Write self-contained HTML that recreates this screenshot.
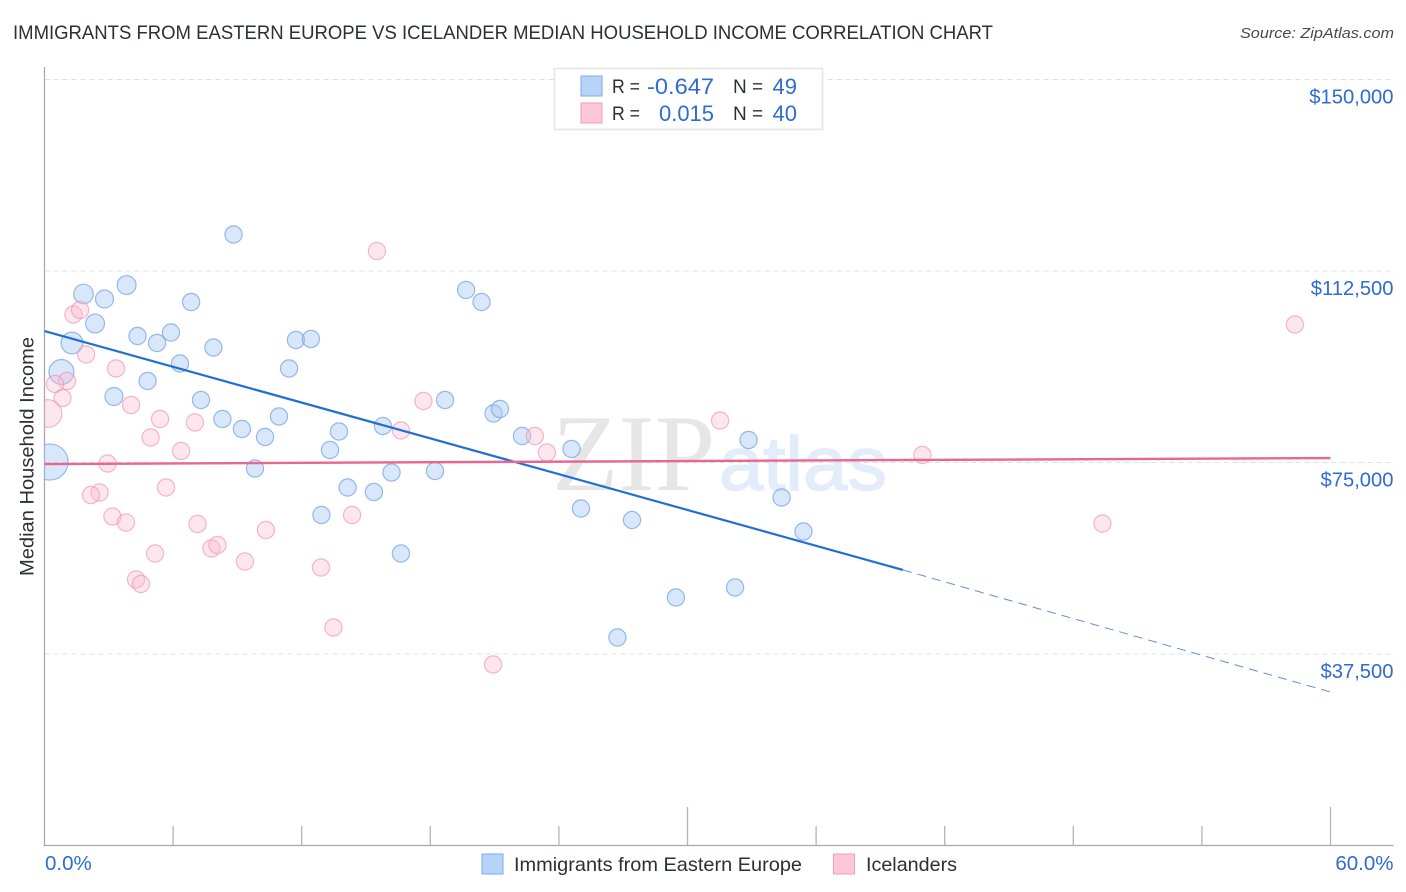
<!DOCTYPE html>
<html lang="en">
<head>
<meta charset="utf-8">
<title>Immigrants from Eastern Europe vs Icelander Median Household Income Correlation Chart</title>
<style>
html,body{margin:0;padding:0;background:#fff;width:1406px;height:892px;overflow:hidden}
svg{display:block;font-family:"Liberation Sans",sans-serif}
</style>
</head>
<body>
<svg id="chart" width="1406" height="892" viewBox="0 0 1406 892" xmlns="http://www.w3.org/2000/svg">
  <defs>
    <clipPath id="plot-clip"><rect x="44.5" y="60" width="1349" height="785.5"/></clipPath>
  </defs>
  <rect x="0" y="0" width="1406" height="892" fill="#ffffff"/>
  <text x="13" y="39" font-size="19.5" fill="#2b2f36" textLength="980" lengthAdjust="spacingAndGlyphs">IMMIGRANTS FROM EASTERN EUROPE VS ICELANDER MEDIAN HOUSEHOLD INCOME CORRELATION CHART</text>
  <text x="1394" y="38" font-size="15" font-style="italic" fill="#444a52" text-anchor="end" textLength="154" lengthAdjust="spacingAndGlyphs">Source: ZipAtlas.com</text>
  <g>
    <text x="552" y="490" style="font-family:'Liberation Serif',serif" font-size="109" fill="#e6e6e6" textLength="163" lengthAdjust="spacingAndGlyphs">ZIP</text>
    <text x="719" y="490" style="font-family:'Liberation Sans',sans-serif" font-size="76" fill="#e3ecf9" stroke="#e3ecf9" stroke-width="1.5" textLength="168" lengthAdjust="spacingAndGlyphs">atlas</text>
  </g>
  <g id="grid"></g>
  <g id="axes"></g>
  <g id="points" clip-path="url(#plot-clip)"></g>
  <g id="lines"></g>
  <text transform="translate(33.5,456.5) rotate(-90)" font-size="19" fill="#2b2f36" text-anchor="middle" textLength="239" lengthAdjust="spacingAndGlyphs">Median Household Income</text>
  <g>
    <rect x="554.5" y="68.5" width="268" height="61" fill="#ffffff" stroke="#e4e4e4" stroke-width="1.5"/>
    <rect x="581" y="76" width="21" height="20" fill="#b6d3f8" stroke="#7fa9e6" stroke-width="1"/>
    <rect x="581" y="103" width="21" height="20" fill="#fcc8d9" stroke="#f09db8" stroke-width="1"/>
    <text x="612" y="93" font-size="19" fill="#2b2f36" textLength="28" lengthAdjust="spacingAndGlyphs">R =</text>
    <text x="714" y="94" font-size="22" fill="#2f6bd0" text-anchor="end" textLength="67" lengthAdjust="spacingAndGlyphs">-0.647</text>
    <text x="733" y="93" font-size="19" fill="#2b2f36">N =</text>
    <text x="797" y="94" font-size="22" fill="#2f6bd0" text-anchor="end">49</text>
    <text x="612" y="120" font-size="19" fill="#2b2f36" textLength="28" lengthAdjust="spacingAndGlyphs">R =</text>
    <text x="714" y="121" font-size="22" fill="#2f6bd0" text-anchor="end" textLength="55" lengthAdjust="spacingAndGlyphs">0.015</text>
    <text x="733" y="120" font-size="19" fill="#2b2f36">N =</text>
    <text x="797" y="121" font-size="22" fill="#2f6bd0" text-anchor="end">40</text>
  </g>
  <g>
    <rect x="482" y="854" width="21" height="20" fill="#b6d3f8" stroke="#7fa9e6" stroke-width="1"/>
    <text x="514" y="871" font-size="19.5" fill="#2b2f36" textLength="288" lengthAdjust="spacingAndGlyphs">Immigrants from Eastern Europe</text>
    <rect x="833.5" y="854" width="21" height="20" fill="#fcc8d9" stroke="#f09db8" stroke-width="1"/>
    <text x="866" y="871" font-size="19.5" fill="#2b2f36" textLength="91" lengthAdjust="spacingAndGlyphs">Icelanders</text>
  </g>
</svg>
<script>
const immigrantsX = [8.82,3.83,1.82,2.80,6.84,2.36,4.34,5.25,5.90,1.28,7.88,11.73,12.43,6.32,11.41,0.79,4.81,3.24,7.30,8.30,9.21,10.29,10.94,13.74,15.79,13.32,9.82,0.26,14.14,15.37,16.19,18.22,12.92,16.63,18.69,19.67,20.39,20.95,21.25,22.28,24.59,25.03,27.41,26.73,29.46,32.22,32.85,34.39,35.41];
const immigrantsY = [119647,109758,107996,107017,106429,102219,99771,98401,100457,98401,97519,98988,99184,94386,93407,92722,90959,87924,87239,83518,81560,79993,84008,81070,82147,77447,73825,75098,70104,69223,73042,73335,64719,57180,87239,108779,106429,84595,85476,80189,77643,65992,63740,40731,48564,50522,79406,68146,61488];
const immigrantsWeight = [1,1.2,1.3,1.1,1,1.2,1,1,1,1.6,1,1,1,1,1,2.1,1,1.1,1,1,1,1,1,1,1,1,1,4.4,1,1,1,1,1,1,1,1,1,1,1,1,1,1,1,1,1,1,1,1,1];
const icelandersX = [15.51,58.34,1.35,1.66,1.94,3.34,1.05,0.49,0.84,0.16,4.04,5.39,4.95,7.02,6.37,2.94,2.57,2.17,5.67,3.17,3.80,7.14,10.33,5.16,7.79,8.07,9.35,4.27,4.50,12.90,13.48,14.35,16.63,17.68,20.93,22.88,23.44,31.52,40.96,49.36];
const icelandersY = [116416,102023,103982,104863,96149,93407,90959,90372,87630,84595,86260,83518,79895,82833,77252,74804,69125,68636,70104,64425,63250,62957,61782,57180,58159,58845,55613,52089,51208,54439,42689,64719,81266,87043,35444,80189,76958,83224,76470,63055];
const icelandersWeight = [1,1,1,1,1,1,1,1,1,2.6,1,1,1,1,1,1,1,1,1,1,1,1,1,1,1,1,1,1,1,1,1,1,1,1,1,1,1,1,1,1];
const yTickValues = [150000,112500,75000,37500];
const yTickLabels = ["$150,000","$112,500","$75,000","$37,500"];
const xTickValues = [0,6,12,18,24,30,36,42,48,54,60];
const xEndLabels = ["0.0%","60.0%"];
const immigrantsTrendX = [0,40.05,60];
const immigrantsTrendY = [100750,53960,30060];
const icelandersTrendX = [0,60];
const icelandersTrendY = [74700,75870];

const NS = "http://www.w3.org/2000/svg";
const sx = v => 44.5 + v / 60 * 1286;
const sy = v => 845.5 - v / 150000 * 766;
function make(parent, tag, props, txt) {
  const el = document.createElementNS(NS, tag);
  for (const k in props) el.setAttribute(k, props[k]);
  if (txt !== undefined) el.textContent = txt;
  parent.appendChild(el);
  return el;
}
const grid = document.getElementById("grid");
const axes = document.getElementById("axes");
const pts = document.getElementById("points");
const lines = document.getElementById("lines");

yTickValues.forEach((v, i) => {
  const gl = make(grid, "line", {x1:44.5, x2:1393.5, y1:sy(v), y2:sy(v), stroke:"#e0e0e0", "stroke-width":1, "stroke-dasharray":"5 4"});
  
  
  const lab = make(axes, "text", {x:1393.5, y:sy(v) + 24, "font-size":20.2, fill:"#2f6bd0", "text-anchor":"end"}, yTickLabels[i]);
  
  
});

const yAxis = make(axes, "line", {x1:44.5, x2:44.5, y1:67, y2:846, stroke:"#a9a9a9", "stroke-width":1.3});


const xAxis = make(axes, "line", {x1:44, x2:1393.5, y1:845.5, y2:845.5, stroke:"#a9a9a9", "stroke-width":1.3});


xTickValues.forEach(v => {
  if (v === 0) return;
  const tall = v === 30 || v === 60;
  const t = make(axes, "line", {x1:sx(v), x2:sx(v), y1:tall ? 807 : 826, y2:845.5, stroke:"#b5b5b5", "stroke-width":1.3});
  
  
});
const xl0 = make(axes, "text", {x:45, y:870, "font-size":20.5, fill:"#2f6bd0"}, xEndLabels[0]);


const xl1 = make(axes, "text", {x:1393.5, y:870, "font-size":20.5, fill:"#2f6bd0", "text-anchor":"end"}, xEndLabels[1]);



function radius(w) { return 8.6 * Math.sqrt(w); }
immigrantsX.forEach((x, i) => {
  const c = make(pts, "circle", {cx:sx(x), cy:sy(immigrantsY[i]), r:radius(immigrantsWeight[i]), fill:"#a9c9f3", "fill-opacity":0.45, stroke:"#6f9fe0", "stroke-opacity":0.7, "stroke-width":1.2});
  
  
});
icelandersX.forEach((x, i) => {
  const c = make(pts, "circle", {cx:sx(x), cy:sy(icelandersY[i]), r:radius(icelandersWeight[i]), fill:"#f9bcd0", "fill-opacity":0.38, stroke:"#ee93b0", "stroke-opacity":0.65, "stroke-width":1.2});
  
  
});

const solid = make(lines, "line", {x1:sx(immigrantsTrendX[0]), y1:sy(immigrantsTrendY[0]), x2:sx(immigrantsTrendX[1]), y2:sy(immigrantsTrendY[1]), stroke:"#1f6fd6", "stroke-width":2.2});


const dashed = make(lines, "line", {x1:sx(immigrantsTrendX[1]), y1:sy(immigrantsTrendY[1]), x2:sx(immigrantsTrendX[2]), y2:sy(immigrantsTrendY[2]), stroke:"#5f8fd8", "stroke-width":1, "stroke-dasharray":"9 6"});


const pink = make(lines, "line", {x1:sx(icelandersTrendX[0]), y1:sy(icelandersTrendY[0]), x2:sx(icelandersTrendX[1]), y2:sy(icelandersTrendY[1]), stroke:"#e8668f", "stroke-width":2.4});


</script>
</body>
</html>
